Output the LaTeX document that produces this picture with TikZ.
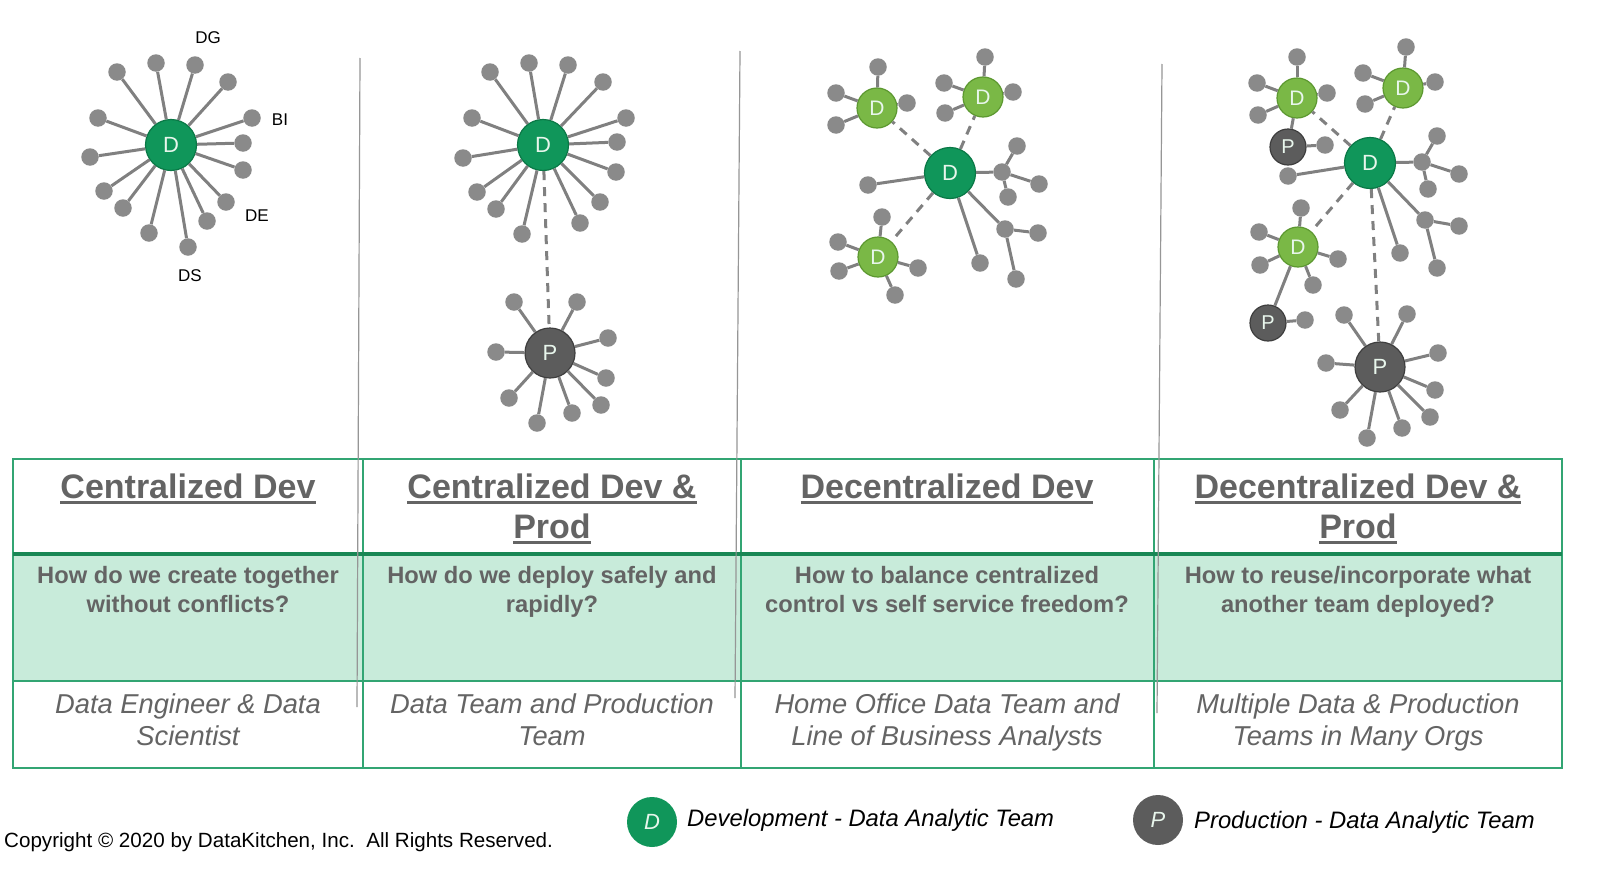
\documentclass[tikz,border=0pt]{standalone}
\usepackage{fontspec}
\setmainfont{Liberation Sans}
\usetikzlibrary{calc}
\definecolor{devgreen}{RGB}{16,150,90}
\definecolor{devborder}{RGB}{10,120,70}
\definecolor{litegreen}{RGB}{122,184,70}
\definecolor{liteborder}{RGB}{92,152,48}
\definecolor{prodgray}{RGB}{92,92,92}
\definecolor{prodborder}{RGB}{62,62,62}
\definecolor{leafgray}{RGB}{138,138,138}
\definecolor{linegray}{RGB}{128,128,128}
\definecolor{tablegreen}{RGB}{50,165,115}
\definecolor{headline}{RGB}{25,135,85}
\definecolor{mint}{RGB}{200,235,218}
\definecolor{textgray}{RGB}{100,100,100}
\definecolor{sepgray}{RGB}{150,150,150}
\definecolor{lettercol}{RGB}{232,246,236}
\newsavebox\ulbx
\newcommand\ulw[1]{\sbox\ulbx{#1}\rlap{\rule[-6bp]{\wd\ulbx}{2.6bp}}\usebox\ulbx}
\begin{document}
\begin{tikzpicture}[x=1bp,y=-1bp,
  leaf/.style={circle, fill=leafgray, minimum size=17.5bp, inner sep=0pt},
  hubD/.style={circle, fill=devgreen, draw=devborder, line width=1.2bp, minimum size=51bp, inner sep=0pt, text=lettercol, font=\fontsize{22bp}{24bp}\selectfont},
  subD/.style={circle, fill=litegreen, draw=liteborder, line width=1.2bp, minimum size=40bp, inner sep=0pt, text=lettercol, font=\fontsize{21bp}{24bp}\selectfont},
  hubP/.style={circle, fill=prodgray, draw=prodborder, line width=1.2bp, minimum size=50bp, inner sep=0pt, text=lettercol, font=\fontsize{22bp}{24bp}\selectfont},
  subP/.style={circle, fill=prodgray, draw=prodborder, line width=1.2bp, minimum size=36bp, inner sep=0pt, text=lettercol, font=\fontsize{20bp}{24bp}\selectfont},
  edge/.style={draw=linegray, line width=3bp},
  dashedge/.style={draw=linegray, line width=3bp, dash pattern=on 9bp off 7bp},
  lbl/.style={font=\fontsize{17bp}{20bp}\selectfont, text=black, inner sep=0pt},
  title/.style={font=\fontsize{34bp}{40bp}\selectfont\bfseries, text=textgray, inner sep=0pt, align=center, anchor=base},
  qtext/.style={font=\fontsize{23.7bp}{29bp}\selectfont\bfseries, text=textgray, inner sep=0pt, align=center, anchor=base},
  who/.style={font=\fontsize{27.3bp}{32bp}\selectfont\itshape, text=textgray, inner sep=0pt, align=center, anchor=base},
  legtext/.style={font=\fontsize{23.8bp}{28bp}\selectfont\itshape, text=black, inner sep=0pt, anchor=base west},
  legcirc/.style={circle, minimum size=50bp, inner sep=0pt, text=lettercol, font=\fontsize{22bp}{24bp}\selectfont\itshape}
]
\useasboundingbox (0,0) rectangle (1600,871);
\fill[white] (0,0) rectangle (1600,871);

% ---------- table ----------
\fill[mint] (13,554) rectangle (1562,681);
\draw[tablegreen, line width=2bp] (13,459) rectangle (1562,768);
\draw[tablegreen, line width=2bp] (363,459) -- (363,768) (741,459) -- (741,768) (1154,459) -- (1154,768);
\draw[tablegreen, line width=2bp] (13,681) -- (1562,681);
\draw[headline, line width=3.5bp] (13,554) -- (1562,554);

% ---------- separators ----------
\draw[sepgray, line width=1.2bp] (360,58) -- (357,707);
\draw[sepgray, line width=1.2bp] (740,51) -- (735,698);
\draw[sepgray, line width=1.2bp] (1162,64) -- (1157,713);

% ---------- diagram 1 ----------
\node[hubD] (A) at (171,145) {D};
\foreach \x/\y [count=\i] in {117/72,156/63,195/65,228/82,252/118,243/143,243/170,226/202,207/221,188/247,149/233,123/208,104/191,90/157,98/118}{
  \node[leaf] (a-\i) at (\x,\y) {};
  \draw[edge] (A) -- (a-\i);
}
\node[lbl] (lDG) at (208,38) {DG};
\node[lbl] (lBI) at (280,120) {BI};
\node[lbl] (lDE) at (257,216) {DE};
\node[lbl] (lDS) at (190,276) {DS};

% ---------- diagram 2 ----------
\node[hubD] (B) at (543,145) {D};
\foreach \x/\y [count=\i] in {490/72,529/63,568/65,603/82,626/118,617/142,616/172,600/202,580/223,522/234,496/209,477/192,463/158,472/118}{
  \node[leaf] (b-\i) at (\x,\y) {};
  \draw[edge] (B) -- (b-\i);
}
\node[hubP] (BP) at (550,353) {P};
\foreach \x/\y [count=\i] in {514/302,577/302,608/338,496/352,606/378,601/405,572/413,537/423,509/398}{
  \node[leaf] (bp-\i) at (\x,\y) {};
  \draw[edge] (BP) -- (bp-\i);
}
\draw[dashedge] (B) -- (BP);

% ---------- diagram 3 ----------
\node[hubD] (C) at (950,173) {D};
\node[subD] (C1) at (877,108) {D};
\node[subD] (C2) at (983,97) {D};
\node[subD] (C3) at (878,257) {D};
\foreach \x/\y [count=\i] in {878/67,836/93,836/125,907/103}{
  \node[leaf] (c1-\i) at (\x,\y) {}; \draw[edge] (C1) -- (c1-\i);}
\foreach \x/\y [count=\i] in {985/57,944/83,945/113,1013/92}{
  \node[leaf] (c2-\i) at (\x,\y) {}; \draw[edge] (C2) -- (c2-\i);}
\foreach \x/\y [count=\i] in {882/217,838/242,839/271,918/268,895/295}{
  \node[leaf] (c3-\i) at (\x,\y) {}; \draw[edge] (C3) -- (c3-\i);}
\node[leaf] (cl1) at (868,185) {}; \draw[edge] (C) -- (cl1);
\node[leaf] (cl2) at (980,263) {}; \draw[edge] (C) -- (cl2);
\node[leaf] (cj1) at (1002,172) {}; \draw[edge] (C) -- (cj1);
\node[leaf] (cj2) at (1005,229) {}; \draw[edge] (C) -- (cj2);
\foreach \x/\y [count=\i] in {1017/146,1039/184,1008/197}{
  \node[leaf] (cj1-\i) at (\x,\y) {}; \draw[edge] (cj1) -- (cj1-\i);}
\foreach \x/\y [count=\i] in {1038/233,1016/279}{
  \node[leaf] (cj2-\i) at (\x,\y) {}; \draw[edge] (cj2) -- (cj2-\i);}
\draw[dashedge] (C) -- (C1);
\draw[dashedge] (C) -- (C2);
\draw[dashedge] (C) -- (C3);

% ---------- diagram 4 ----------
\node[hubD] (E) at (1370,163) {D};
\node[subD] (E1) at (1297,98) {D};
\node[subD] (E2) at (1403,88) {D};
\node[subD] (E3) at (1298,247) {D};
\node[subP] (EP1) at (1288,147) {P};
\node[subP] (EP2) at (1268,323) {P};
\node[hubP] (EP) at (1380,367) {P};
\foreach \x/\y [count=\i] in {1297/57,1257/83,1258/115,1327/93}{
  \node[leaf] (e1-\i) at (\x,\y) {}; \draw[edge] (E1) -- (e1-\i);}
\draw[edge] (E1) -- (EP1);
\node[leaf] (ep1-1) at (1325,145) {}; \draw[edge] (EP1) -- (ep1-1);
\foreach \x/\y [count=\i] in {1406/47,1363/73,1365/104,1435/82}{
  \node[leaf] (e2-\i) at (\x,\y) {}; \draw[edge] (E2) -- (e2-\i);}
\foreach \x/\y [count=\i] in {1301/208,1259/232,1260/265,1338/259,1313/285}{
  \node[leaf] (e3-\i) at (\x,\y) {}; \draw[edge] (E3) -- (e3-\i);}
\draw[edge] (E3) -- (EP2);
\node[leaf] (ep2-1) at (1305,320) {}; \draw[edge] (EP2) -- (ep2-1);
\node[leaf] (el1) at (1288,176) {}; \draw[edge] (E) -- (el1);
\node[leaf] (el2) at (1400,253) {}; \draw[edge] (E) -- (el2);
\node[leaf] (ej1) at (1422,162) {}; \draw[edge] (E) -- (ej1);
\node[leaf] (ej2) at (1425,220) {}; \draw[edge] (E) -- (ej2);
\foreach \x/\y [count=\i] in {1437/136,1459/174,1428/189}{
  \node[leaf] (ej1-\i) at (\x,\y) {}; \draw[edge] (ej1) -- (ej1-\i);}
\foreach \x/\y [count=\i] in {1459/226,1437/268}{
  \node[leaf] (ej2-\i) at (\x,\y) {}; \draw[edge] (ej2) -- (ej2-\i);}
\foreach \x/\y [count=\i] in {1344/315,1407/314,1438/353,1326/363,1435/390,1430/417,1402/428,1367/438,1340/410}{
  \node[leaf] (ep-\i) at (\x,\y) {}; \draw[edge] (EP) -- (ep-\i);}
\draw[dashedge] (E) -- (E1);
\draw[dashedge] (E) -- (E2);
\draw[dashedge] (E) -- (E3);
\draw[dashedge] (E) -- (EP);

% ---------- table text (base anchor = baseline of last line) ----------
\node[title] (t1) at (188,498) {\ulw{Centralized Dev}};
\node[title] (t2) at (552,538) {\ulw{Centralized Dev \&}\\\ulw{Prod}};
\node[title] (t3) at (947,498) {\ulw{Decentralized Dev}};
\node[title] (t4) at (1358,538) {\ulw{Decentralized Dev \&}\\\ulw{Prod}};

\node[qtext] (q1) at (188,612) {How do we create together\\without conflicts?};
\node[qtext] (q2) at (552,612) {How do we deploy safely and\\rapidly?};
\node[qtext] (q3) at (947,612) {How to balance centralized\\control vs self service freedom?};
\node[qtext] (q4) at (1358,612) {How to reuse/incorporate what\\another team deployed?};

\node[who] (w1) at (188,745) {Data Engineer \& Data\\Scientist};
\node[who] (w2) at (552,745) {Data Team and Production\\Team};
\node[who] (w3) at (947,745) {Home Office Data Team and\\Line of Business Analysts};
\node[who] (w4) at (1358,745) {Multiple Data \& Production\\Teams in Many Orgs};

% ---------- legend ----------
\node[anchor=base west, font=\fontsize{20.6bp}{24bp}\selectfont, inner sep=0pt] (copy) at (4,847) {Copyright © 2020 by DataKitchen, Inc.\ \ All Rights Reserved.};
\node[legcirc, fill=devgreen] (legD) at (652,822) {D};
\node[legtext] (legDt) at (687,826) {Development - Data Analytic Team};
\node[legcirc, fill=prodgray] (legP) at (1158,820) {P};
\node[legtext] (legPt) at (1194,828) {Production - Data Analytic Team};
\end{tikzpicture}
\end{document}
